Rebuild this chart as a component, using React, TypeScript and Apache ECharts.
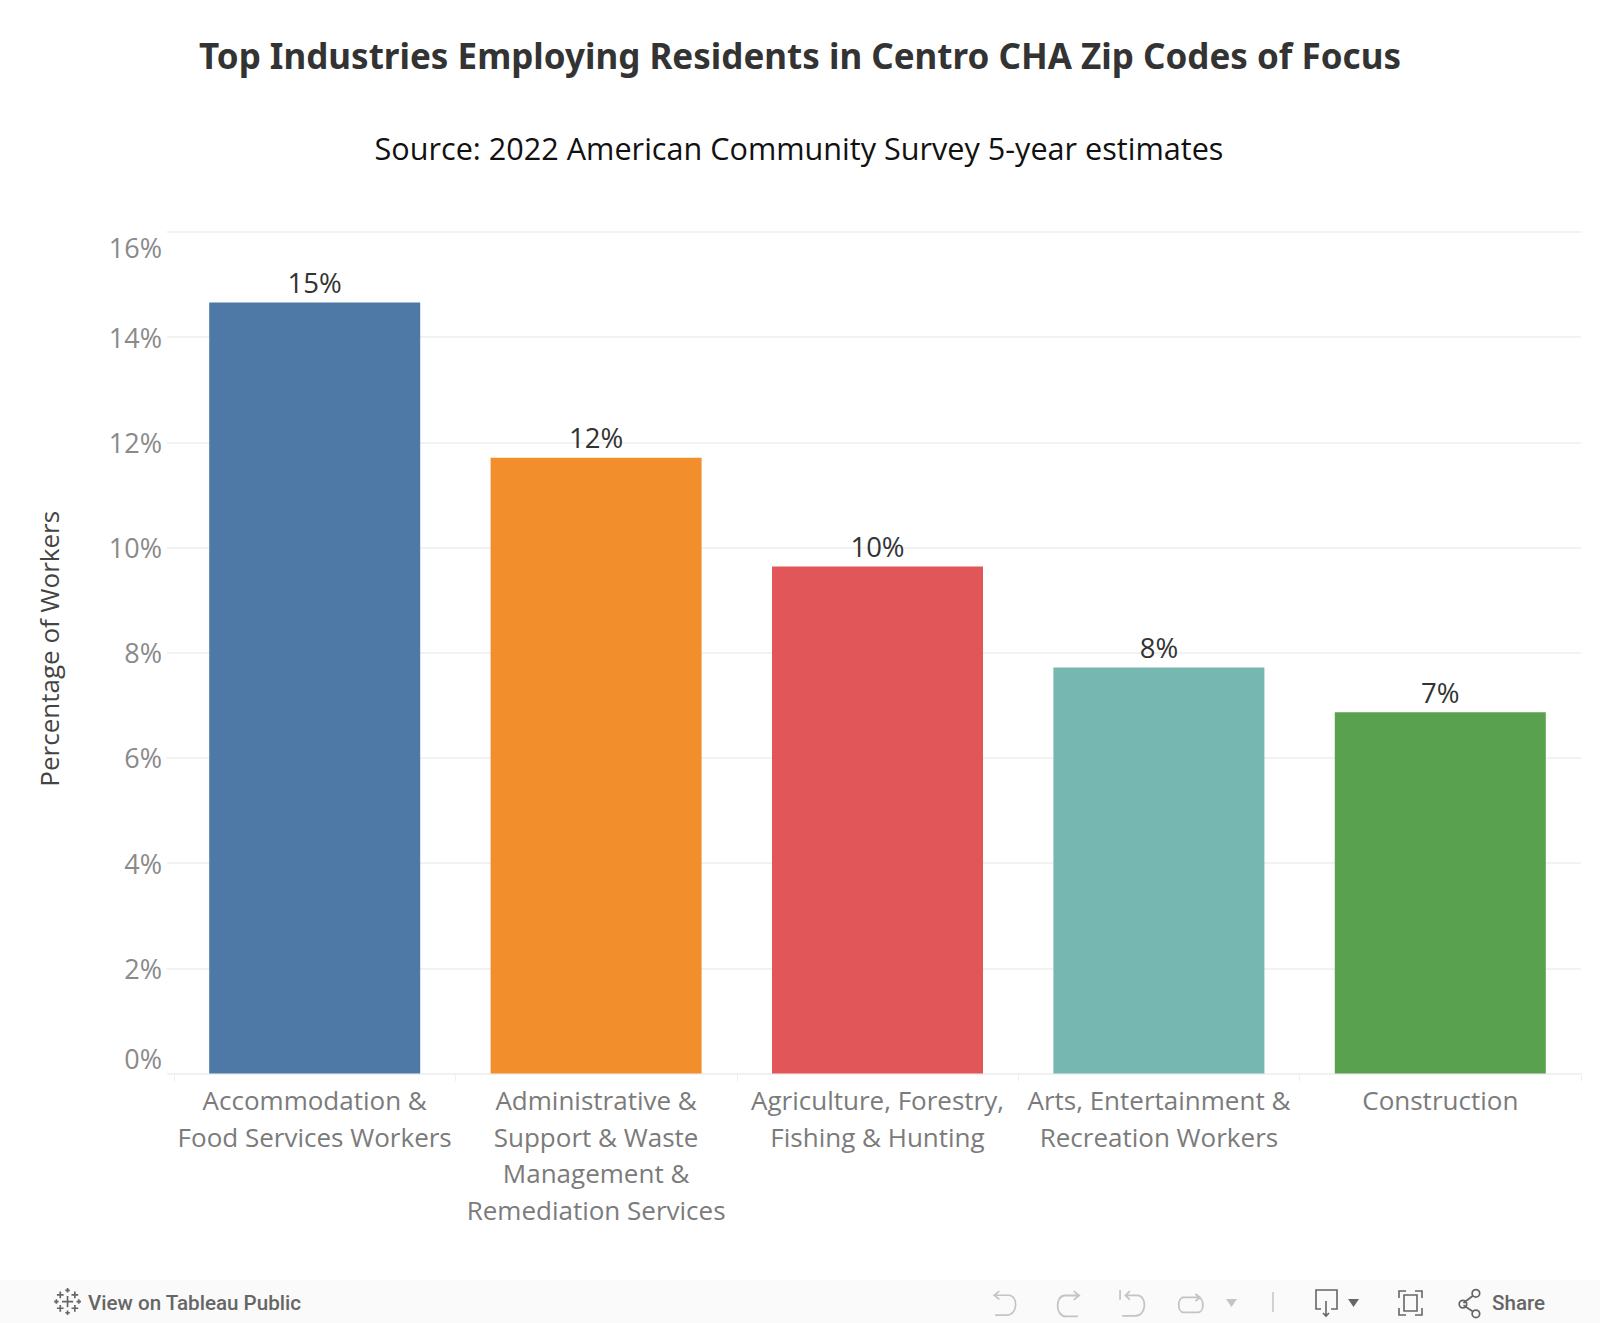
import React, { useEffect, useRef } from "react";
import * as echarts from "echarts";

const titleText = "Top Industries Employing Residents in Centro CHA Zip Codes of Focus";
const subtitleText = "Source: 2022 American Community Survey 5-year estimates";
const yAxisName = "Percentage of Workers";
const categories = [
  "Accommodation &\nFood Services Workers",
  "Administrative &\nSupport & Waste\nManagement &\nRemediation Services",
  "Agriculture, Forestry,\nFishing & Hunting",
  "Arts, Entertainment &\nRecreation Workers",
  "Construction",
];
const values = [14.66, 11.71, 9.64, 7.72, 6.87];
const barColors = ["#4e79a7", "#f28e2b", "#e15759", "#76b7b2", "#59a14f"];

const FONT = "'Open Sans', 'Noto Sans', sans-serif";
const ICON_DARK = "#666666";
const ICON_LIGHT = "#c4c4c4";

function plus(cx: number, cy: number, r: number) {
  return `M${cx - r} ${cy}L${cx + r} ${cy}M${cx} ${cy - r}L${cx} ${cy + r}`;
}
const logoPath = [
  plus(13, 13, 5), plus(13, 3, 2), plus(13, 23, 2), plus(3, 13, 2), plus(23, 13, 2),
  plus(6.5, 7, 3), plus(19.5, 7, 3), plus(6.5, 19, 3), plus(19.5, 19, 3),
].join("");

const shapes: Record<string, string> = {
  tabLogo: logoPath,
  undoIcon: "M2 5L16 5C25 5 25 24 14 24L3 24M7 1L2 5L7 9",
  redoIcon: "M22 5L9 5C0 5 0 24 10 24L21 24M17 1L22 5L17 9",
  revertIcon: "M1 0L1 9M6 5L17 5C26 5 26 24 15 24L3 24M10 1L6 5L10 9",
  refreshIcon: "M4 3L18 3C24 3 24 16 18 16L6 16C0 16 0 3 6 3M16 0L20 3L16 6",
  downloadIcon: "M7 20L2 20L2 1L23 1L23 20L17 20M12 12L12 27M9 24L12 27L15 24",
  fullscreenIcon: "M1 8L1 1L8 1M17 1L24 1L24 8M24 18L24 25L17 25M8 25L1 25L1 18M6 5L19 5L19 21L6 21Z",
  shareIcon: "M6 13L15 6M6 15L15 21M9 14A3.5 3.5 0 1 1 2 14A3.5 3.5 0 1 1 9 14M21 4A3.5 3.5 0 1 1 14 4A3.5 3.5 0 1 1 21 4M21 23A3.5 3.5 0 1 1 14 23A3.5 3.5 0 1 1 21 23",
};
Object.keys(shapes).forEach((name) => {
  echarts.graphic.registerShape(name, echarts.graphic.extendPath(shapes[name] as any, {}) as any);
});

function icon(type: string, x: number, y: number, stroke: string, scale = 1, lineWidth = 1.6) {
  return { type, x, y, scaleX: scale, scaleY: scale, silent: true, style: { fill: "none", stroke, lineWidth } };
}
function tri(x: number, y: number, fill: string) {
  return {
    type: "polygon",
    silent: true,
    shape: { points: [[x, y], [x + 11, y], [x + 5.5, y + 8]] },
    style: { fill },
  };
}

export default function App() {
  const ref = useRef<HTMLDivElement>(null);
  useEffect(() => {
    const chart = echarts.init(ref.current!, null, { renderer: "svg" });
    chart.setOption({
      animation: false,
      backgroundColor: "#ffffff",
      title: [
        {
          text: titleText,
          left: 795,
          top: 33,
          textAlign: "center",
          textStyle: { fontFamily: "'Noto Sans', sans-serif", fontWeight: 700, fontSize: 35, color: "#333333" },
        },
        {
          text: subtitleText,
          left: 794,
          top: 127,
          textAlign: "center",
          textStyle: { fontFamily: FONT, fontWeight: 400, fontSize: 30.6, color: "#111111" },
        },
      ],
      grid: { left: 174, right: 19, top: 232, height: 841.5, containLabel: false },
      xAxis: {
        type: "category",
        data: categories,
        axisLine: { show: true, lineStyle: { color: "#f0f0f0", width: 1 } },
        axisTick: { show: true, alignWithLabel: false, length: 8, lineStyle: { color: "#f0f0f0" } },
        axisLabel: {
          interval: 0,
          margin: 8,
          color: "#7b7b7b",
          fontFamily: FONT,
          fontSize: 26,
          lineHeight: 36.7,
          verticalAlign: "top",
          hideOverlap: false,
        },
      },
      yAxis: {
        type: "value",
        min: 0,
        max: 16,
        interval: 2,
        name: yAxisName,
        nameLocation: "middle",
        nameGap: 112,
        nameRotate: 90,
        nameTextStyle: { color: "#444444", fontFamily: FONT, fontSize: 26, padding: [0, 0, 0, 8] },
        axisLine: { show: false },
        axisTick: { show: true, length: 7, lineStyle: { color: "#f2f2f2", width: 2 } },
        axisLabel: {
          margin: 12,
          color: "#8a8a8a",
          fontFamily: FONT,
          fontSize: 27,
          lineHeight: 31,
          formatter: "{value}%",
          verticalAlignMinLabel: "bottom",
          verticalAlignMaxLabel: "top",
        },
        splitLine: { show: true, lineStyle: { color: "#f2f2f2", width: 2 } },
      },
      series: [
        {
          type: "bar",
          barWidth: 211,
          data: values.map((v, i) => ({ value: v, itemStyle: { color: barColors[i] } })),
          label: {
            show: true,
            position: "top",
            distance: 6,
            color: "#333333",
            fontFamily: FONT,
            fontSize: 27.5,
            formatter: (p: any) => `${Math.round(p.value)}%`,
          },
        },
      ],
      graphic: [
        { type: "rect", silent: true, z: 10, shape: { x: 0, y: 1280, width: 1600, height: 43 }, style: { fill: "#fafafa" } },
        { ...icon("tabLogo", 53, 1287, ICON_DARK, 1.12, 1.5), z: 11 },
        {
          type: "text", z: 11, silent: true, x: 88, y: 1303,
          style: { text: "View on Tableau Public", fill: "#666666", font: "500 20.6px 'Roboto', sans-serif", verticalAlign: "middle" },
        },
        { ...icon("undoIcon", 992, 1290, ICON_LIGHT, 1.05), z: 11 },
        { ...icon("redoIcon", 1055, 1290, ICON_LIGHT, 1.1), z: 11 },
        { ...icon("revertIcon", 1119, 1290, ICON_LIGHT, 1.08), z: 11 },
        { ...icon("refreshIcon", 1177, 1294, ICON_LIGHT, 1.15), z: 11 },
        { ...tri(1226, 1299, "#c4c4c4"), z: 11 },
        { type: "line", z: 11, silent: true, shape: { x1: 1273, y1: 1292, x2: 1273, y2: 1312 }, style: { stroke: "#c4c4c4", lineWidth: 1.5 } },
        { ...icon("downloadIcon", 1314, 1289, ICON_DARK), z: 11 },
        { ...tri(1348, 1299, "#666666"), z: 11 },
        { ...icon("fullscreenIcon", 1398, 1290, ICON_DARK), z: 11 },
        { ...icon("shareIcon", 1457, 1289, ICON_DARK, 1.08), z: 11 },
        {
          type: "text", z: 11, silent: true, x: 1492, y: 1303,
          style: { text: "Share", fill: "#666666", font: "500 20.6px 'Roboto', sans-serif", verticalAlign: "middle" },
        },
      ],
    });
    return () => chart.dispose();
  }, []);
  return <div ref={ref} style={{ position: "absolute", left: 0, top: 0, width: 1600, height: 1323 }} />;
}
